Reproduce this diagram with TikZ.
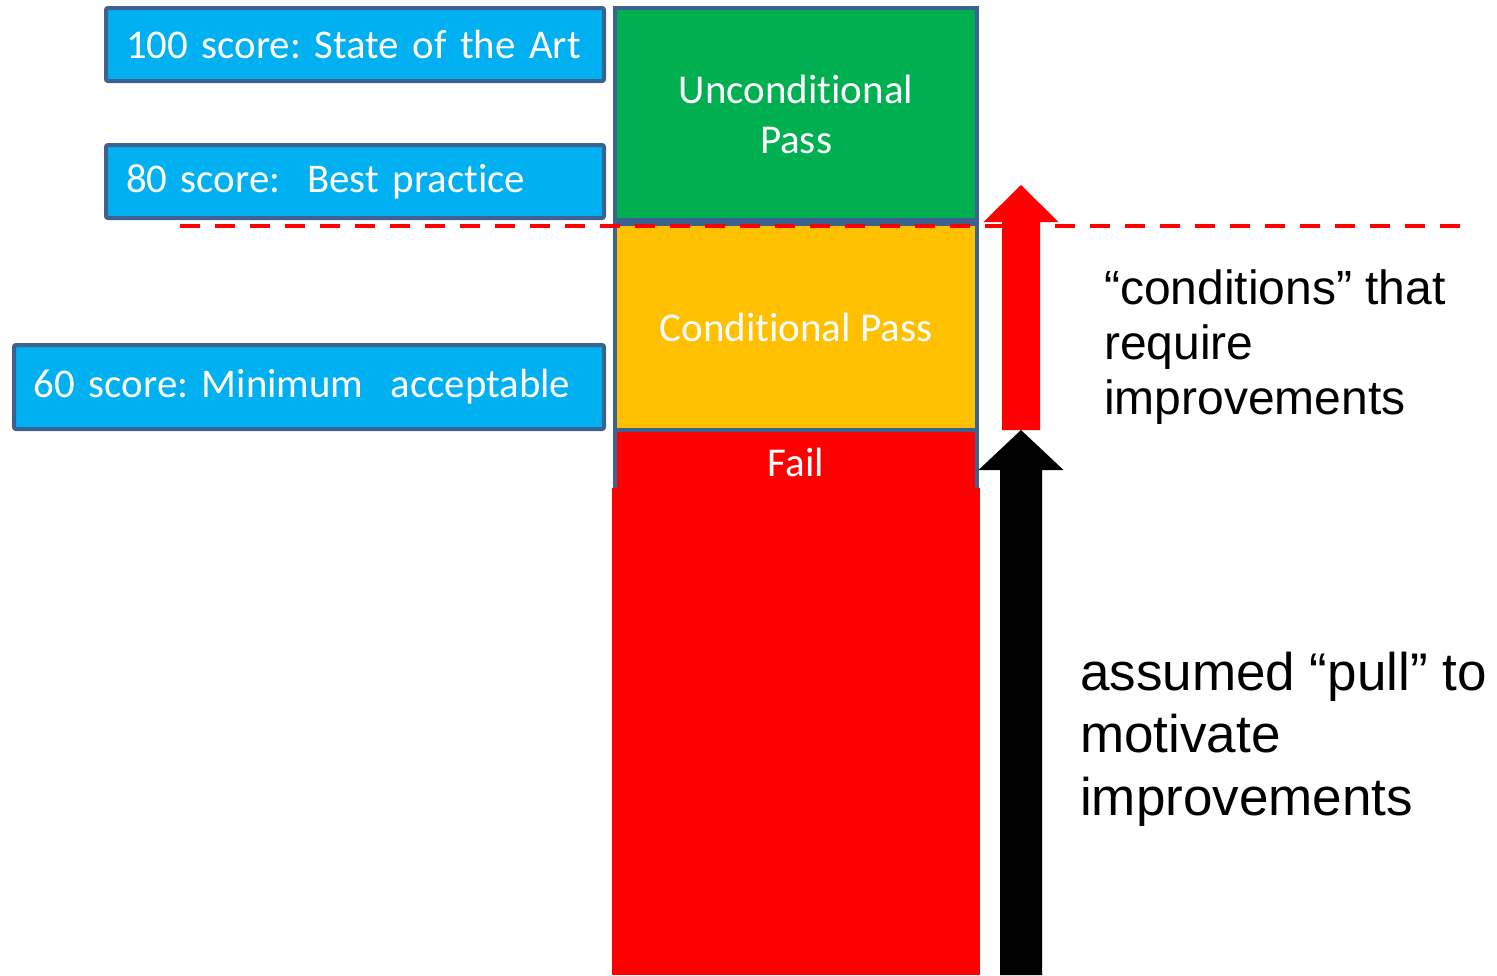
\documentclass[tikz,border=0pt]{standalone}
\usepackage{fontspec}
\setmainfont{Liberation Sans}
\newfontfamily\boxfont{Carlito}[RawFeature={-liga,-calt,-clig,-dlig}]
\usetikzlibrary{positioning}
\frenchspacing

\definecolor{scoreblue}{HTML}{00B0F0}
\definecolor{edgeblue}{HTML}{3E6290}
\definecolor{passgreen}{HTML}{00B050}
\definecolor{condorange}{HTML}{FFC000}
\definecolor{failred}{HTML}{FF0000}

% block arrow pointing up: colour, x of axis, y of tail, y of head base, y of tip, half shaft, half head
\newcommand\upblock[7]{%
  \fill[#1] (#2-#6,#3) -- (#2-#6,#4) -- (#2-#7,#4) -- (#2,#5)
    -- (#2+#7,#4) -- (#2+#6,#4) -- (#2+#6,#3) -- cycle;}

\tikzset{
  scorebox/.style={draw=edgeblue, line width=4pt, fill=scoreblue, rounded corners=2pt,
    text=white, anchor=west, align=left, inner xsep=20pt, inner ysep=0pt, outer sep=0pt,
    font=\boxfont\fontsize{40.8}{50}\selectfont},
  band/.style={draw=edgeblue, line width=4pt, minimum width=362pt, text=white,
    align=center, anchor=north west, inner sep=0pt, outer sep=0pt,
    font=\boxfont\fontsize{41}{50}\selectfont},
  note/.style={anchor=base west, align=left, inner sep=0pt},
}

\begin{document}
\begin{tikzpicture}[x=1pt, y=-1pt]
  \useasboundingbox (0,0) rectangle (1497,975);

  % score levels on the left
  \node[scorebox, text width=458pt, minimum height=73pt] (best100) at (106,44.5) {\mbox{100 score: State of the Art}};
  \node[scorebox, text width=458pt, minimum height=73pt] (best80) at (106,181.5) {\mbox{80 score:\ \ Best practice}};
  \node[scorebox, text width=550pt, minimum height=84pt] (min60) at (14,387) {\mbox{60 score: Minimum\ \ acceptable}};

  % the column of outcomes
  \node[band, fill=passgreen, minimum height=212pt] (uncond) at (615,8) {Unconditional\\Pass};
  \node[band, fill=condorange, minimum height=206pt] (cond) at (615,224) {Conditional Pass};
  \node[band, fill=failred, minimum height=65pt] (fail) at (615,430) {Fail};
  \fill[failred] (612,488) rectangle (980,975);

  % pass threshold
  \draw[failred, line width=4.5pt, dash pattern=on 20pt off 15pt] (180,226) -- (1460,226);

  % improvement arrows
  \upblock{failred}{1021}{430}{222}{185}{19}{37.5}
  \upblock{black}{1021}{975}{470}{430}{21}{42.5}

  % explanations
  \node[note, font=\fontsize{48}{55}\selectfont] (condtext) at (1104,414) {``conditions'' that\\require\\improvements};
  \node[note, font=\fontsize{53}{62.5}\selectfont] (pulltext) at (1080,815) {assumed ``pull'' to\\motivate\\improvements};
\end{tikzpicture}
\end{document}
